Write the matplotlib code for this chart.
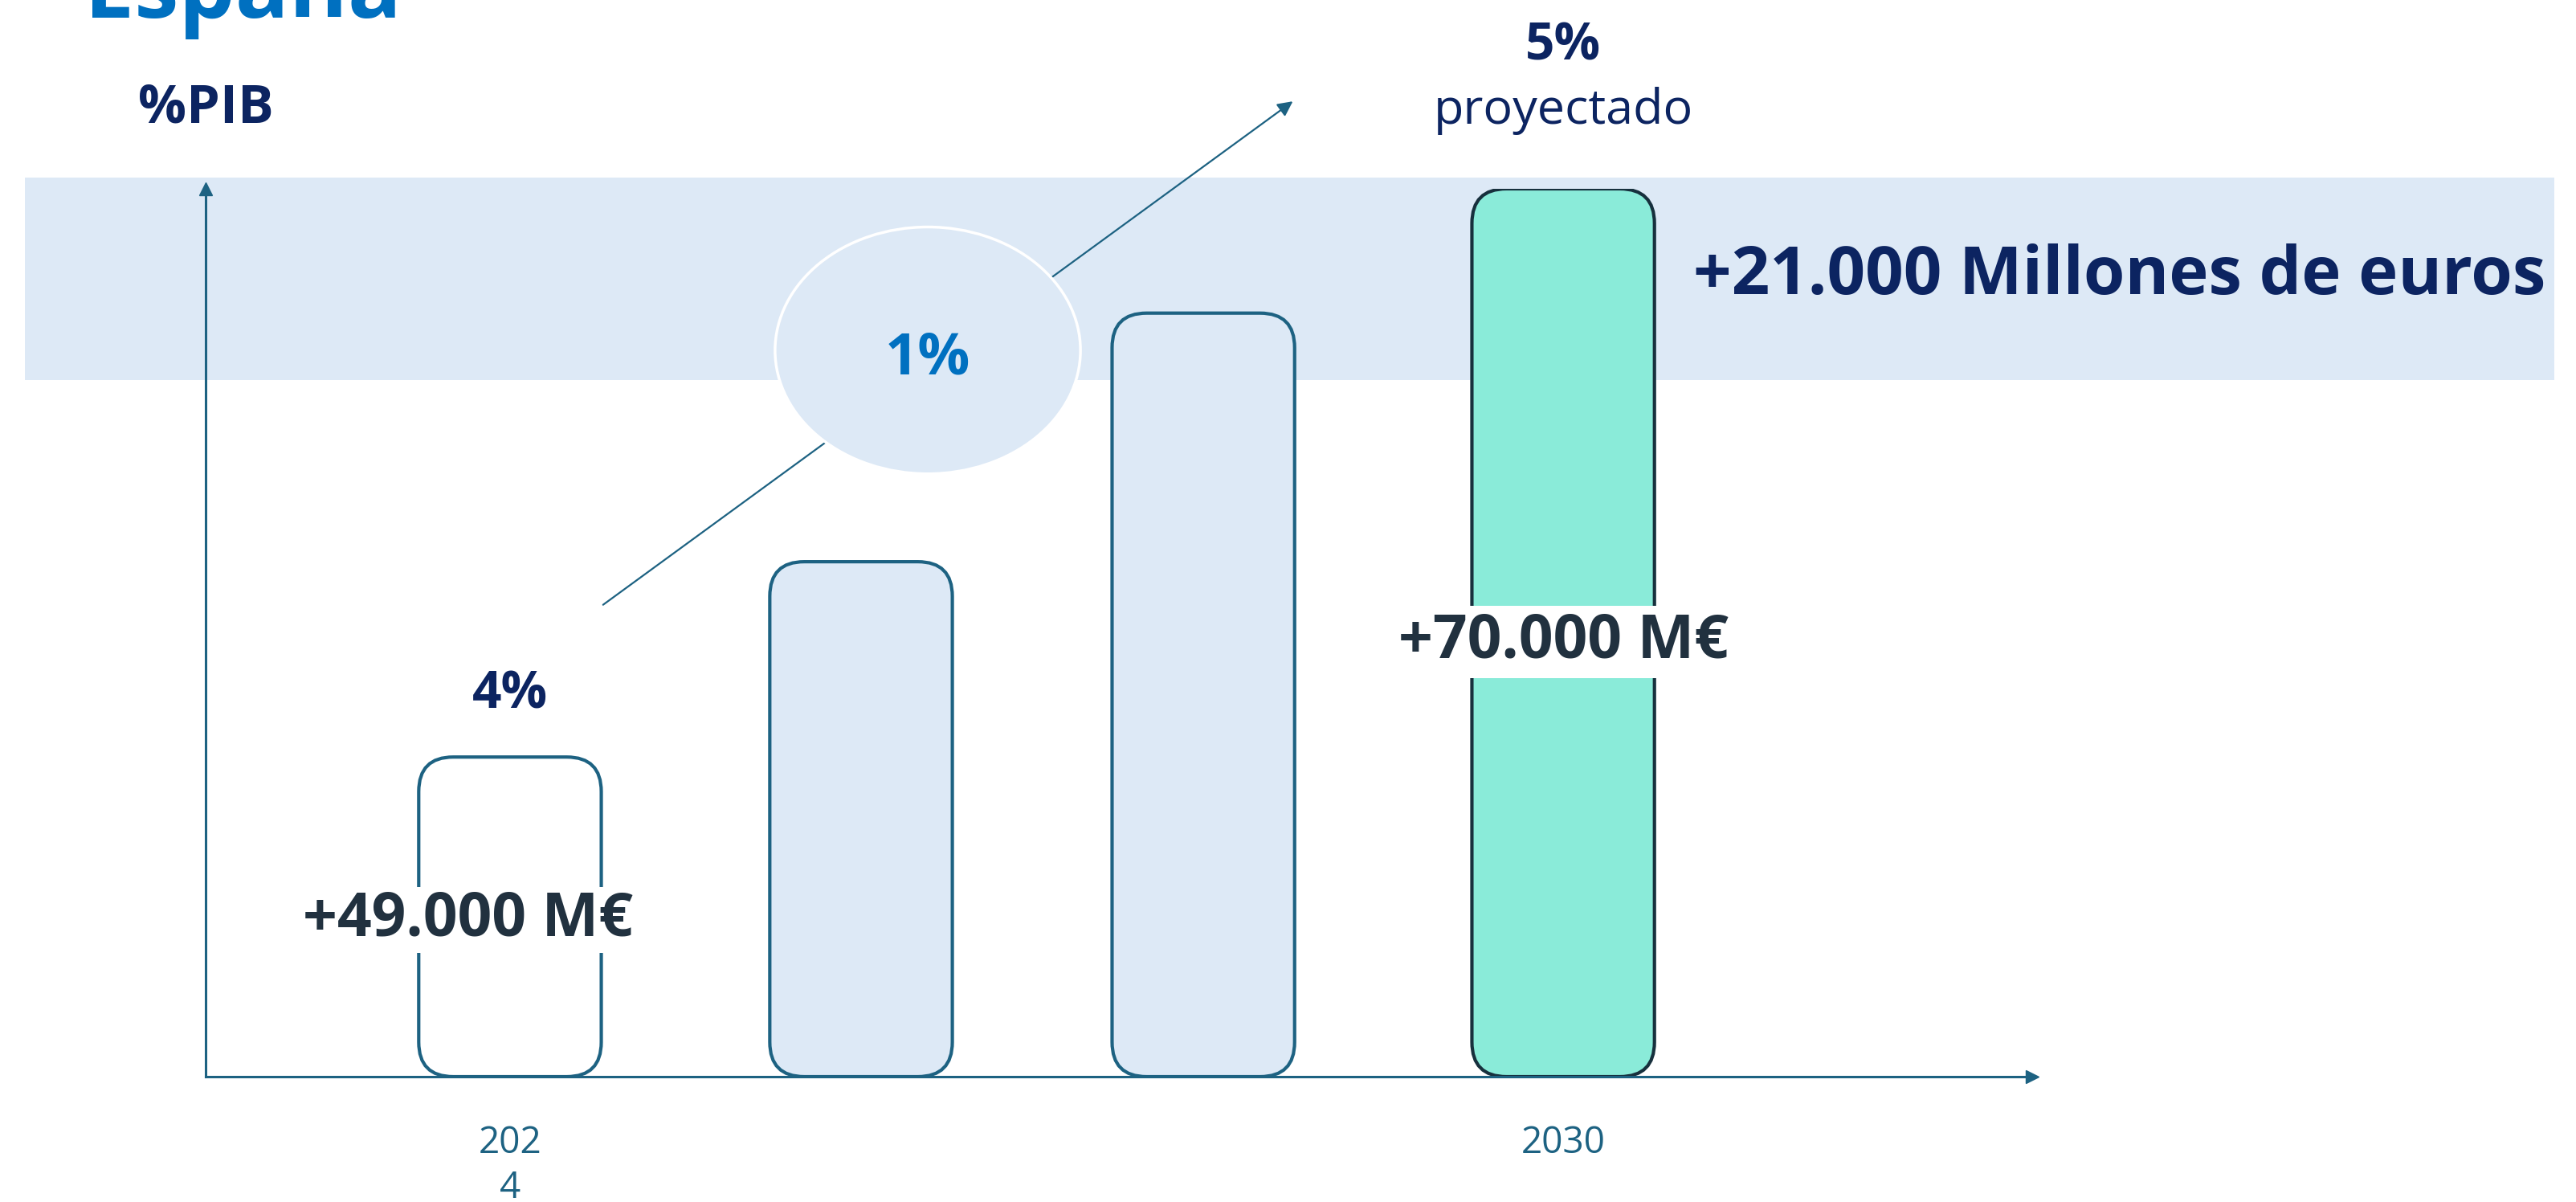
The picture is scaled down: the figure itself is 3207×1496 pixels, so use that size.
import matplotlib
matplotlib.use('Agg')
import matplotlib.pyplot as plt
from matplotlib.patches import FancyBboxPatch, Ellipse

# datos
posiciones = [0, 1, 1.975, 3]
alturas = [36, 58, 86, 100]
etiquetas_x = ['202\n4', '', '', '2030']
porcentaje_ini = '4%'
porcentaje_fin = '5%'
importe_ini = '+49.000 M€'
importe_fin = '+70.000 M€'
diferencia_pct = '1%'
diferencia_eur = '+21.000 Millones de euros'

plt.rcParams['font.family'] = ['Open Sans', 'DejaVu Sans']

azul_titulo = '#0070C0'
marino = '#0C2461'
oscuro = '#21313F'
teal = '#1D6282'
celeste = '#DDE9F6'
aguamarina = '#8AEBD9'

rellenos = ['white', celeste, celeste, aguamarina]
bordes = [teal, teal, teal, '#17303D']
ancho = 0.52

W, H = 3207, 1496
fig = plt.figure(figsize=(W / 100, H / 100), dpi=100)
ax = fig.add_axes([256 / W, (H - 1340) / H, 2274 / W, 1105 / H])
ax.set_xlim(-0.867, 4.336)
ax.set_ylim(0, 100)

for s in ['top', 'right']:
    ax.spines[s].set_visible(False)
for s in ['left', 'bottom']:
    ax.spines[s].set_color(teal)
    ax.spines[s].set_linewidth(2.2)
    ax.spines[s].set_zorder(3)
ax.plot(1, 0, '>', color=teal, ms=11, transform=ax.transAxes, clip_on=False, zorder=3)
ax.plot(0, 1, '^', color=teal, ms=11, transform=ax.transAxes, clip_on=False, zorder=3)
ax.set_yticks([])
ax.set_xticks(posiciones)
ax.set_xticklabels(etiquetas_x, fontsize=33, color=teal, linespacing=1.3)
ax.tick_params(axis='x', length=0, pad=43)

# banda de fondo
ax.axhspan(78.5, 101.3, xmin=-0.099, xmax=1.286, color=celeste, lw=0, zorder=0, clip_on=False)

# barras redondeadas
p0 = ax.transData.transform((0, 0))
p1 = ax.transData.transform((1, 1))
sx, sy = p1[0] - p0[0], p1[1] - p0[1]
radio = 43 / sx
for x, h, fc, ec in zip(posiciones, alturas, rellenos, bordes):
    bar = FancyBboxPatch((x - ancho / 2, 0), ancho, h,
                         boxstyle=f'round,pad=0,rounding_size={radio}',
                         mutation_aspect=sx / sy, fc=fc, ec=ec, lw=3, zorder=2)
    ax.add_patch(bar)

# importes
ax.text(posiciones[0] - 0.12, alturas[0] * 0.49, importe_ini, fontsize=54, fontweight='bold',
        color=oscuro, ha='center', va='center', zorder=5,
        bbox=dict(boxstyle='square,pad=0.05', fc='white', ec='none'))
ax.text(posiciones[3], alturas[3] * 0.49, importe_fin, fontsize=54, fontweight='bold',
        color=oscuro, ha='center', va='center', zorder=5,
        bbox=dict(boxstyle='square,pad=0.1', fc='white', ec='none'))

# porcentajes
ax.text(posiciones[0], alturas[0] + 7, porcentaje_ini, fontsize=46, fontweight='bold',
        color=marino, ha='center', va='center', clip_on=False)
ax.text(posiciones[3], 116.0, porcentaje_fin, fontsize=46, fontweight='bold',
        color=marino, ha='center', va='center', clip_on=False)
ax.text(posiciones[3], 108.8, 'proyectado', fontsize=44, color=marino,
        ha='center', va='center', clip_on=False)

# flecha de crecimiento
ax.annotate('', xy=(posiciones[2] + ancho / 2, 110), xytext=(posiciones[0] + ancho / 2, 53),
            arrowprops=dict(arrowstyle='-|>', color=teal, lw=1.6, mutation_scale=28),
            annotation_clip=False, zorder=3)
ax.add_patch(Ellipse((1.19, 81.8), 0.87, 27.8, fc=celeste, ec='white', lw=2.5, zorder=4))
ax.text(1.19, 80.9, diferencia_pct, fontsize=52, fontweight='bold', color=azul_titulo,
        ha='center', va='center', zorder=5)

ax.text(3.37, 90.1, diferencia_eur, fontsize=60, fontweight='bold', color=marino,
        ha='left', va='center', clip_on=False)

fig.text(172 / W, 1 - 135 / H, '%PIB', fontsize=48, fontweight='bold', color=marino,
         ha='left', va='center')
fig.text(105 / W, 1 - 22 / H, 'España', fontsize=80, fontweight='bold', color=azul_titulo,
         ha='left', va='baseline')

fig.savefig('out.png', dpi=100)
